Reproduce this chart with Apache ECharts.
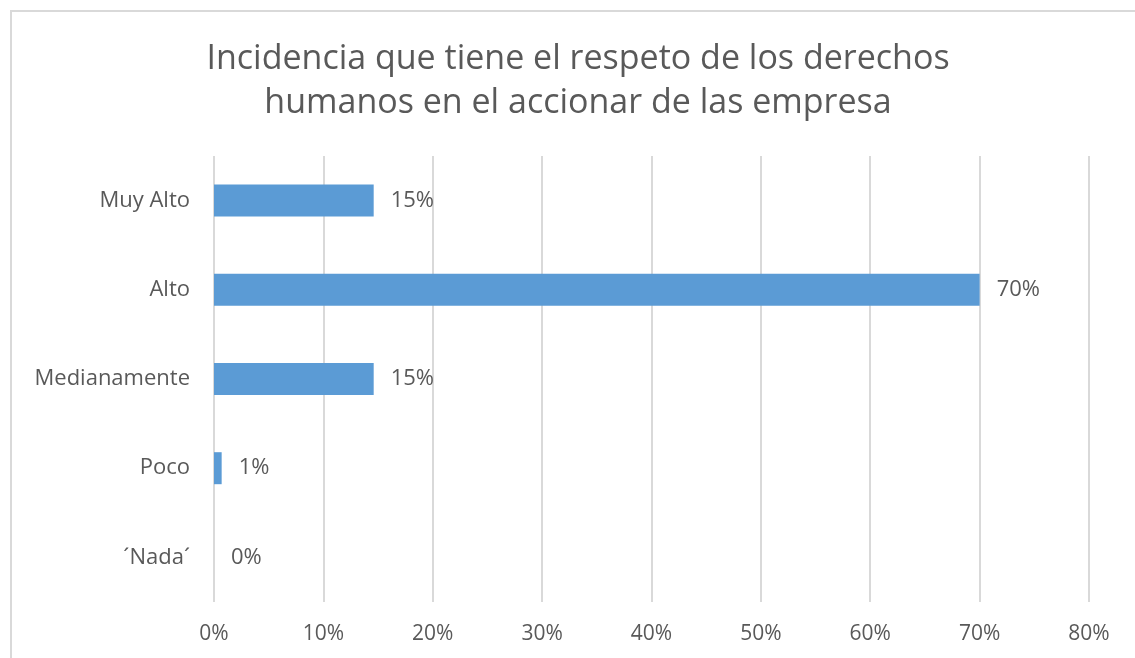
<!DOCTYPE html>
<html>
<head>
<meta charset="utf-8">
<script src="https://cdn.jsdelivr.net/npm/echarts@6/dist/echarts.min.js"></script>
<style>
  html, body { margin: 0; padding: 0; background: #fff; }
  #frame {
    position: absolute; left: 10px; top: 10px; width: 1140px; height: 660px;
    border-top: 2px solid #d9d9d9; border-left: 2px solid #d9d9d9;
  }
  #chart { position: absolute; left: 0; top: 0; width: 1135px; height: 658px; }
</style>
</head>
<body>
<div id="frame"></div>
<div id="chart"></div>
<script>
// datos
const categorias = ['Muy Alto', 'Alto', 'Medianamente', 'Poco', '´Nada´']
const valores = [0.146, 0.70, 0.146, 0.007, 0]
const ticksX = [0, 0.1, 0.2, 0.3, 0.4, 0.5, 0.6, 0.7, 0.8]

const gris = '#595959'
const fuente = '"Open Sans", "Noto Sans", sans-serif'

const chart = echarts.init(document.getElementById('chart'))
chart.setOption({
  animation: false,
  title: {
    text: 'Incidencia que tiene el respeto de los derechos\nhumanos en el accionar de las empresa',
    left: 573,
    top: 32,
    textAlign: 'center',
    textStyle: {
      color: gris,
      fontFamily: fuente,
      fontSize: 34,
      fontWeight: 'normal',
      lineHeight: 44
    }
  },
  grid: {
    left: 214,
    right: 46,
    top: 156,
    bottom: 56,
    containLabel: false
  },
  xAxis: {
    type: 'value',
    min: ticksX[0],
    max: ticksX[ticksX.length - 1],
    interval: 0.1,
    axisLine: { show: false },
    axisTick: { show: false },
    splitLine: { lineStyle: { color: '#d9d9d9', width: 2 } },
    axisLabel: {
      color: gris,
      fontFamily: fuente,
      fontSize: 21,
      margin: 22,
      formatter: v => Math.round(v * 100) + '%'
    }
  },
  yAxis: {
    type: 'category',
    data: categorias,
    inverse: true,
    axisLine: { show: false },
    axisTick: { show: false },
    axisLabel: {
      color: gris,
      fontFamily: fuente,
      fontSize: 22,
      margin: 24
    }
  },
  series: [
    {
      type: 'bar',
      data: valores,
      barWidth: 32,
      itemStyle: { color: '#5b9bd5' },
      label: {
        show: true,
        position: 'right',
        distance: 17,
        color: gris,
        fontFamily: fuente,
        fontSize: 22,
        formatter: p => Math.round(p.value * 100) + '%'
      }
    }
  ]
})
</script>
</body>
</html>
